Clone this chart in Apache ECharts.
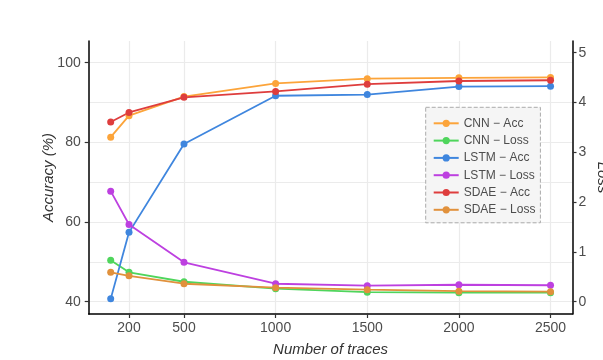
<!DOCTYPE html>
<html>
<head>
<meta charset="utf-8">
<script src="https://cdn.jsdelivr.net/npm/echarts@6/dist/echarts.min.js"></script>
<style>html,body{margin:0;padding:0;background:#fff}#c{width:603px;height:360px}</style>
</head>
<body>
<div id="c"></div>
<script>
var traces = [100, 200, 500, 1000, 1500, 2000, 2500];
var xTicks = [200, 500, 1000, 1500, 2000, 2500];
var accTicks = [40, 60, 80, 100];
var accMinorGrid = [50, 70, 90];
var lossTicks = [0, 1, 2, 3, 4, 5];
var cnnAcc   = [81.3, 86.7, 91.5, 94.8, 96.0, 96.2, 96.3];
var cnnLoss  = [0.83, 0.59, 0.40, 0.26, 0.19, 0.18, 0.18];
var lstmAcc  = [40.7, 57.4, 79.6, 91.7, 92.0, 94.0, 94.1];
var lstmLoss = [2.22, 1.55, 0.79, 0.36, 0.32, 0.34, 0.33];
var sdaeAcc  = [85.1, 87.5, 91.3, 92.8, 94.6, 95.4, 95.6];
var sdaeLoss = [0.59, 0.52, 0.36, 0.28, 0.24, 0.21, 0.20];

var accMin = 36.9, accMax = 105.45;
// secondary axis: acc = 40 + 12.5 * loss
var lossMin = (accMin - 40) / 12.5, lossMax = (accMax - 40) / 12.5;

function pairs(ys) { return traces.map(function (x, i) { return [x, ys[i]]; }); }
function plain(v) { return String(v); }

var FONT = '"Liberation Sans", Arial, sans-serif';
var gridLine = { show: true, lineStyle: { color: '#EBEBEB', width: 1.2 } };

var seriesDefs = [
  { name: 'CNN \u2212 Acc',   data: cnnAcc,   color: '#FCA43A', axis: 0 },
  { name: 'CNN \u2212 Loss',  data: cnnLoss,  color: '#4FD55C', axis: 1 },
  { name: 'LSTM \u2212 Acc',  data: lstmAcc,  color: '#3F86DE', axis: 0 },
  { name: 'LSTM \u2212 Loss', data: lstmLoss, color: '#BD40E0', axis: 1 },
  { name: 'SDAE \u2212 Acc',  data: sdaeAcc,  color: '#DE3D3D', axis: 0 },
  { name: 'SDAE \u2212 Loss', data: sdaeLoss, color: '#E1913C', axis: 1 }
];

var chart = echarts.init(document.getElementById('c'), null, { renderer: 'canvas' });
chart.setOption({
  animation: false,
  backgroundColor: '#fff',
  textStyle: { fontFamily: FONT },
  grid: { left: 88.7, right: 30.5, top: 41, bottom: 46, containLabel: false, outerBoundsMode: 'none' },
  legend: {
    orient: 'vertical',
    left: 425.7, top: 107.3,
    padding: [9, 5, 6, 7],
    backgroundColor: '#F5F5F5',
    borderColor: '#AAAAAA', borderWidth: 1, borderType: 'dashed',
    itemWidth: 25, itemHeight: 9, itemGap: 3.3,
    textStyle: { fontSize: 12, lineHeight: 14, color: '#4D4D4D', fontFamily: FONT },
    data: seriesDefs.map(function (s) { return s.name; })
  },
  xAxis: {
    type: 'value', min: -20, max: 2620,
    name: 'Number of traces', nameLocation: 'middle', nameGap: 28, nameMoveOverlap: false,
    nameTextStyle: { fontSize: 15, fontStyle: 'italic', color: '#333', fontFamily: FONT },
    axisLine: { show: true, onZero: false, lineStyle: { color: '#000', width: 1.5 } },
    axisTick: { show: true, length: 4, customValues: xTicks, lineStyle: { color: '#333', width: 1.2 } },
    axisLabel: { customValues: xTicks, formatter: plain, fontSize: 14, color: '#4D4D4D', margin: 7 },
    splitLine: gridLine
  },
  yAxis: [
    {
      type: 'value', min: accMin, max: accMax, position: 'left',
      name: 'Accuracy (%)', nameLocation: 'middle', nameGap: 32, nameRotate: 90, nameMoveOverlap: false,
      nameTextStyle: { fontSize: 15, fontStyle: 'italic', color: '#333', fontFamily: FONT },
      axisLine: { show: true, onZero: false, lineStyle: { color: '#000', width: 1.5 } },
      axisTick: { show: true, length: 4, customValues: accTicks, lineStyle: { color: '#333', width: 1.2 } },
      axisLabel: { customValues: accTicks, formatter: plain, fontSize: 14, color: '#4D4D4D', margin: 8 },
      splitLine: gridLine
    },
    {
      type: 'value', min: lossMin, max: lossMax, position: 'right',
      name: 'Loss', nameLocation: 'middle', nameGap: 22, nameRotate: -90, nameMoveOverlap: false,
      nameTextStyle: { fontSize: 15, fontStyle: 'italic', color: '#333', fontFamily: FONT },
      axisLine: { show: true, onZero: false, lineStyle: { color: '#000', width: 1.5 } },
      axisTick: { show: true, length: 4, customValues: lossTicks, lineStyle: { color: '#333', width: 1.2 } },
      axisLabel: { customValues: lossTicks, formatter: plain, fontSize: 14, color: '#4D4D4D', margin: 6 },
      splitLine: { show: false }
    },
    {
      type: 'value', min: accMin, max: accMax, position: 'left',
      axisLine: { show: false }, axisLabel: { show: false },
      axisTick: { show: false, customValues: accMinorGrid },
      splitLine: gridLine
    }
  ],
  series: seriesDefs.map(function (s) {
    return {
      name: s.name, type: 'line', yAxisIndex: s.axis,
      data: pairs(s.data),
      symbol: 'circle', symbolSize: 7,
      lineStyle: { width: 1.8, color: s.color },
      itemStyle: { color: s.color },
      emphasis: { disabled: true }
    };
  })
});
</script>
</body>
</html>
